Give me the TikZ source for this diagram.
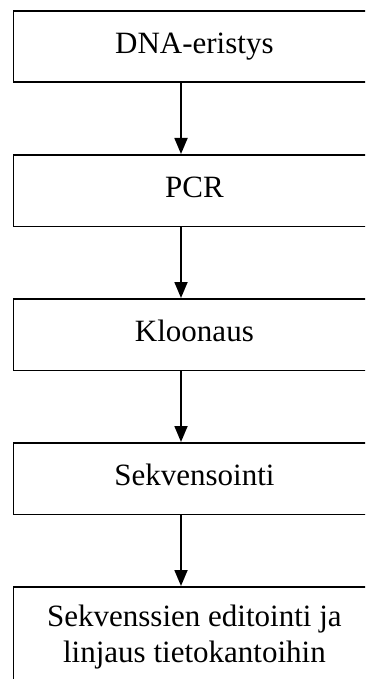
\documentclass[tikz,border=0pt]{standalone}
\usepackage{fontspec}
\setmainfont{Liberation Serif}
\usetikzlibrary{arrows.meta}
\begin{document}
\begin{tikzpicture}[x=1pt, y=-1pt, line width=1.8pt, line join=miter, font=\fontsize{31}{36}\selectfont, >={Triangle[width=13pt,length=16pt]}]
	\tikzset{boxbase/.style={draw, rectangle, anchor=north west, minimum width=362pt, minimum height=71.5pt, inner sep=0pt},
		stepbox/.style={boxbase, text height=21pt, text depth=8pt}}
	\useasboundingbox (0,0) rectangle (365,679);
	\clip (0,0) rectangle (365,679);
	\node[stepbox] (eristys) at (12.5,10) {DNA-eristys};
	\node[stepbox] (pcr) at (12.5,154) {PCR};
	\node[stepbox] (kloonaus) at (12.5,298) {Kloonaus};
	\node[stepbox] (sekv) at (12.5,442) {Sekvensointi};
	\node[boxbase, align=center, inner ysep=18pt] (editointi) at (12.5,586) {Sekvenssien editointi ja\\linjaus tietokantoihin};
	\coordinate (akseli) at (181,0);
	\foreach \a/\b in {eristys/pcr, pcr/kloonaus, kloonaus/sekv, sekv/editointi}
		\draw[->] (\a.south -| akseli) -- (\b.north -| akseli);
\end{tikzpicture}
\end{document}
